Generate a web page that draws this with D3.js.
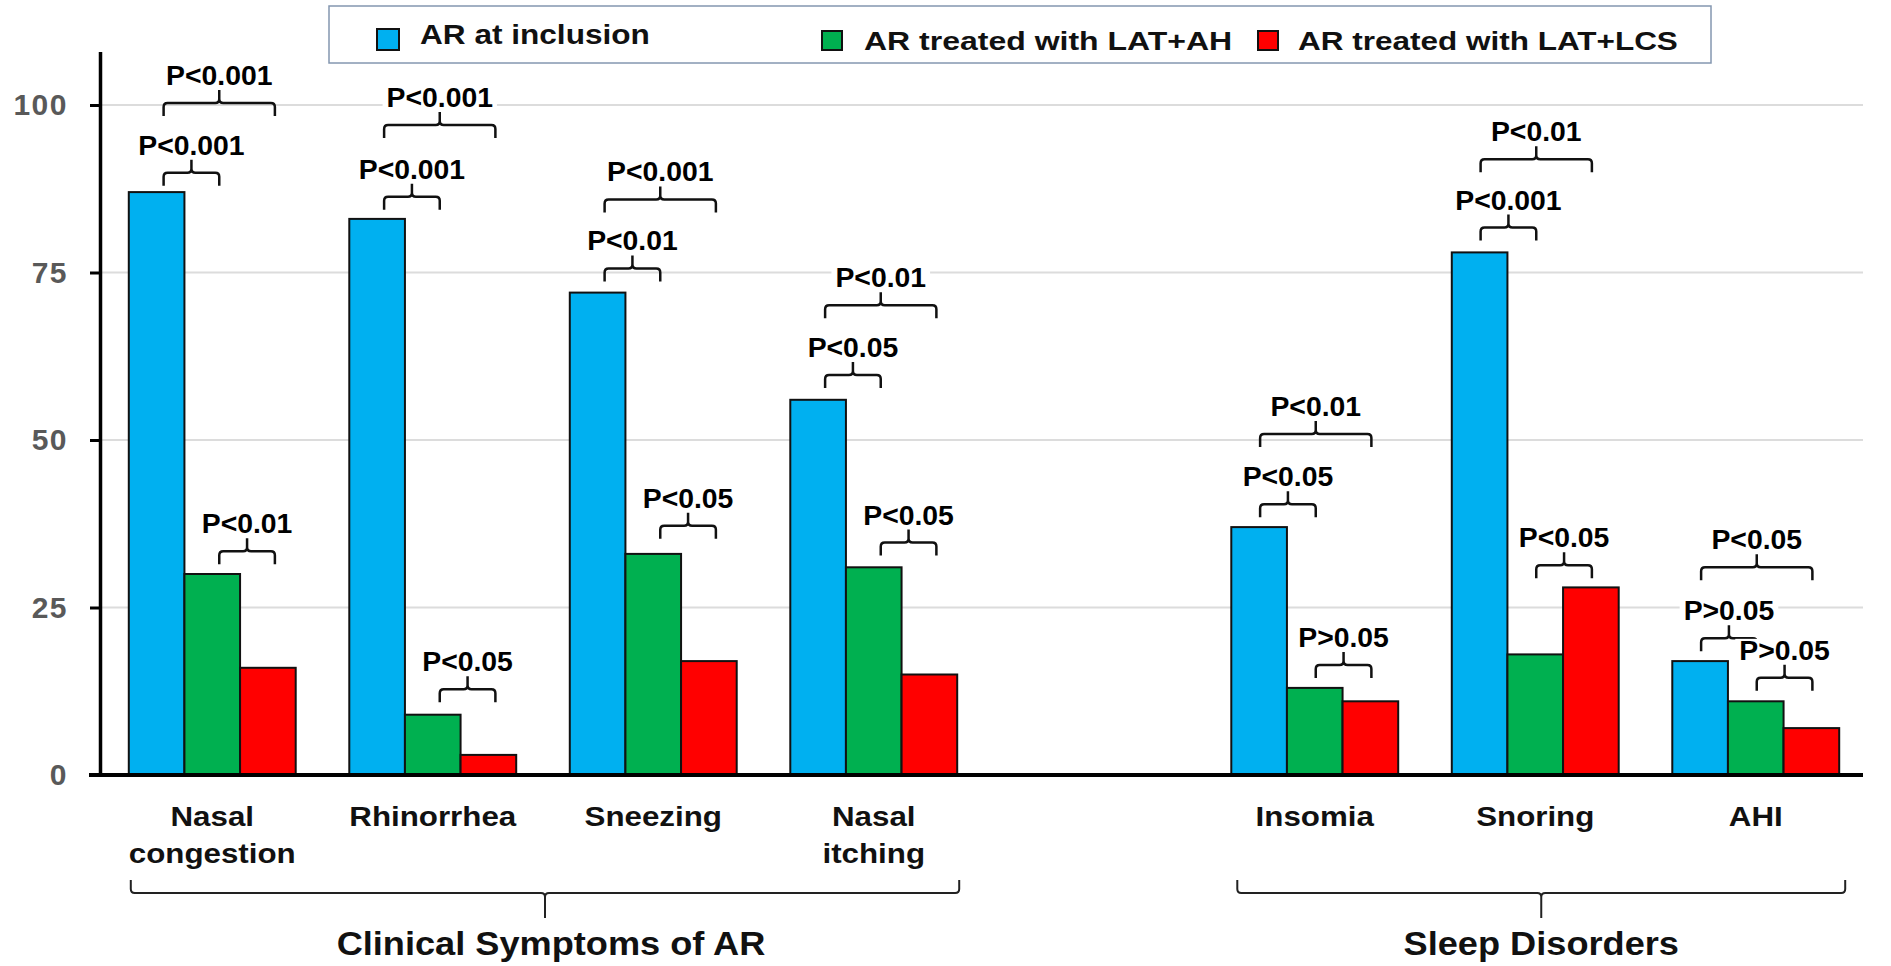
<!DOCTYPE html>
<html><head><meta charset="utf-8">
<script src="https://cdn.jsdelivr.net/npm/d3@7"></script>
<style>
body{margin:0;background:#fff}
svg{display:block}
text{font-family:"Liberation Sans",Arial,Helvetica,sans-serif;font-weight:bold}
</style>
</head><body><svg id="c" width="1891" height="966"></svg>
<script>
// ---------- data ----------
const categories = ["Nasal congestion","Rhinorrhea","Sneezing","Nasal itching","Insomia","Snoring","AHI"];
const sectionOf  = [0,0,0,0,1,1,1];
const sections   = ["Clinical Symptoms of AR","Sleep Disorders"];
const series     = ["AR at inclusion","AR treated with LAT+AH","AR treated with LAT+LCS"];
const atInclusion = [87,83,72,56,37,78,17];
const latAH       = [30, 9,33,31,13,18,11];
const latLCS      = [16, 3,17,15,11,28, 7];
const yTicks      = [0,25,50,75,100];
// [category index, series from, series to, label, bracket level (y units)]
const brackets = [
  [0,0,1,"P<0.001",89.9],[0,0,2,"P<0.001",100.3],[0,1,2,"P<0.01",33.4],
  [1,0,1,"P<0.001",86.3],[1,0,2,"P<0.001",97.0],[1,1,2,"P<0.05",12.8],
  [2,0,1,"P<0.01",75.6],[2,0,2,"P<0.001",85.9],[2,1,2,"P<0.05",37.2],
  [3,0,1,"P<0.05",59.7],[3,0,2,"P<0.01",70.1],[3,1,2,"P<0.05",34.7],
  [4,0,1,"P<0.05",40.4],[4,0,2,"P<0.01",50.9],[4,1,2,"P>0.05",16.4],
  [5,0,1,"P<0.001",81.7],[5,0,2,"P<0.01",91.9],[5,1,2,"P<0.05",31.3],
  [6,0,1,"P>0.05",20.4],[6,0,2,"P<0.05",31.0],[6,1,2,"P>0.05",14.5]
];
const values = [atInclusion, latAH, latLCS];
const colors = ["#00b0f0","#00b050","#ff0000"];

// ---------- layout ----------
const svg = d3.select("#c");
const y = d3.scaleLinear().domain([0,108]).range([775,51.4]);
const slots = [...categories.slice(0,4), "__gap__", ...categories.slice(4)];
const x = d3.scaleBand().domain(slots).range([102,1866]).paddingInner(0.243).paddingOuter(0.1215);
const xs = d3.scaleBand().domain(series).range([0,x.bandwidth()]);
const secOff = [7,1];

function stext(g, px, py, str, size, sx, anchor){
  return g.append("text")
    .attr("transform",`translate(${px},${py}) scale(${sx},1)`)
    .attr("text-anchor",anchor||"middle")
    .style("font-size",size+"px")
    .text(str);
}

// gridlines
svg.append("g").selectAll("line").data(yTicks.filter(t=>t>0)).join("line")
  .attr("x1",102).attr("x2",1863)
  .attr("y1",d=>y(d)).attr("y2",d=>y(d))
  .attr("stroke","#dcdcdc").attr("stroke-width",2);

// bars
const flat = [];
categories.forEach((c,i)=>series.forEach((s,k)=>flat.push({c,s,k,v:values[k][i]})));
svg.append("g").selectAll("rect").data(flat).join("rect")
  .attr("x",d=>x(d.c)+xs(d.s))
  .attr("y",d=>y(d.v))
  .attr("width",xs.bandwidth())
  .attr("height",d=>y(0)-y(d.v))
  .attr("fill",d=>colors[d.k])
  .attr("stroke","#111").attr("stroke-width",2);

// y axis
const ya = svg.append("g").attr("transform","translate(100,0)")
  .call(d3.axisLeft(y).tickValues(yTicks).tickSize(10).tickSizeOuter(0).tickPadding(22));
ya.select(".domain").attr("stroke","#000").attr("stroke-width",3.5);
ya.selectAll(".tick line").attr("stroke","#000").attr("stroke-width",3);
ya.selectAll(".tick text").attr("fill","#595959").style("font-size","30px")
  .style("letter-spacing","1.5px")
  .style("font-family","'Liberation Sans',Arial,sans-serif").style("font-weight","bold");

// x axis line
svg.append("line").attr("x1",89).attr("x2",1863).attr("y1",y(0)).attr("y2",y(0))
  .attr("stroke","#000").attr("stroke-width",4);

// significance brackets
const bg = svg.append("g");
brackets.forEach(([ci,a,b,lab,lev])=>{
  const c = categories[ci];
  const off = secOff[sectionOf[ci]];
  const x1 = x(c)+xs(series[a])+xs.bandwidth()/2+off;
  const x2 = x(c)+xs(series[b])+xs.bandwidth()/2+off;
  const xc = (x1+x2)/2, yy = y(lev), r = 4;
  bg.append("path")
    .attr("d",`M${x1},${yy+13}V${yy+r}Q${x1},${yy} ${x1+r},${yy}H${xc-r}Q${xc},${yy} ${xc},${yy-r}V${yy-13}`+
              `M${xc},${yy-r}Q${xc},${yy} ${xc+r},${yy}H${x2-r}Q${x2},${yy} ${x2},${yy+r}V${yy+13}`)
    .attr("fill","none").attr("stroke","#111").attr("stroke-width",2.5);
  const t = stext(bg, xc, yy-18, lab, 27, 1.05, "middle").attr("fill","#000");
  const bb = t.node().getBBox();
  const w = bb.width*1.05;
  bg.insert("rect", () => t.node())
    .attr("x",xc-w/2-4).attr("y",yy-18-21).attr("width",w+8).attr("height",22)
    .attr("fill","#fff");
});

// category labels
const cg = svg.append("g");
categories.forEach(c=>{
  const cx = x(c)+x.bandwidth()/2;
  c.split(" ").forEach((w,li)=>stext(cg, cx, 826+li*37, w, 27, 1.16, "middle").attr("fill","#111"));
});

// section braces + titles
sections.forEach((s,si)=>{
  const cats = categories.filter((c,i)=>sectionOf[i]===si);
  const off = si===0?2:6;
  const x1 = x(cats[0])+off, x2 = x(cats[cats.length-1])+x.bandwidth()+off;
  const xc = (x1+x2)/2, yy = 893, r = 4;
  svg.append("path")
    .attr("d",`M${x1},880V${yy-r}Q${x1},${yy} ${x1+r},${yy}H${xc-r}Q${xc},${yy} ${xc},${yy+r}V918`+
              `M${xc},${yy+r}Q${xc},${yy} ${xc+r},${yy}H${x2-r}Q${x2},${yy} ${x2},${yy-r}V880`)
    .attr("fill","none").attr("stroke","#222").attr("stroke-width",2);
  stext(svg, xc+(si===0?6:0), 955, s, 32.6, 1.11, "middle").attr("fill","#111");
});

// legend
const lg = svg.append("g");
lg.append("rect").attr("x",329).attr("y",6).attr("width",1382).attr("height",57)
  .attr("fill","#fff").attr("stroke","#8497b0").attr("stroke-width",1.5);
const legSq = [[377,29,22,21],[822,31,20,19],[1258,31,20,19]];
const legTx = [[420,44,27,1.17],[864,50,25,1.28],[1298,50,25,1.26]];
series.forEach((s,k)=>{
  const [sx,sy,sw,sh] = legSq[k];
  lg.append("rect").attr("x",sx).attr("y",sy).attr("width",sw).attr("height",sh)
    .attr("fill",colors[k]).attr("stroke","#111").attr("stroke-width",2);
  const [tx,ty,fs,sc] = legTx[k];
  stext(lg, tx, ty, s, fs, sc, "start").attr("fill","#111");
});
</script>
</body></html>
